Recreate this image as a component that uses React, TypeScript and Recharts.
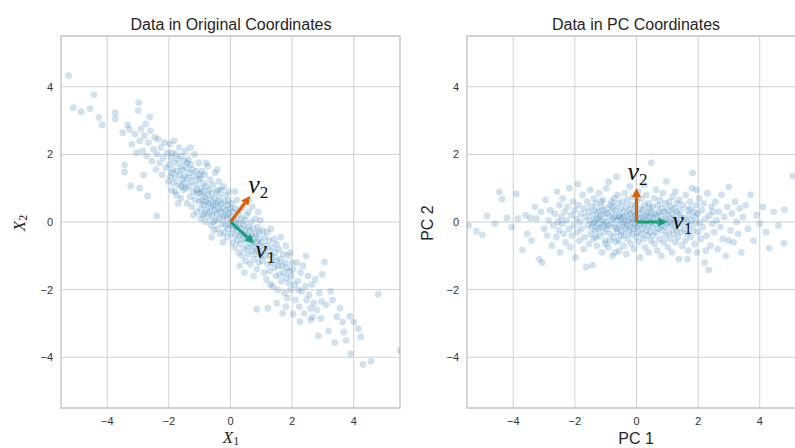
import React from "react";
import {
  ScatterChart,
  Scatter,
  XAxis,
  YAxis,
  CartesianGrid,
  ReferenceLine,
  ReferenceArea,
} from "recharts";

const TICKS = [-4, -2, 0, 2, 4];
const DOMAIN: [number, number] = [-5.5, 5.5];

// points (X1, X2)
const originalPoints: [number, number][] = [
  [-5.25,4.33],[-5.1,3.38],[-4.85,3.26],[-4.56,3.35],[-4.43,3.76],[-4.27,3.09],[-4.16,2.87],[-3.74,3.23],[-3.74,3.05],[-3.5,2.64],[-3.34,2.87],[-3.28,2.74],[-3.44,1.69],[-3.44,1.48],[-3.24,1.07],[-3.2,2.3],[-3.1,2.6],[-3.05,2.05],
  [-2.98,3.53],[-3.0,3.29],[-2.62,3.11],[-2.75,2.9],[-2.95,1.0],[-2.69,0.77],[-2.82,1.39],[-2.39,0.18],[-2.95,2.4],[-2.9,2.75],[-2.85,2.1],[-2.8,2.55],[-2.72,1.95],[-2.66,2.35],[-2.6,2.7],[-2.55,1.8],[-2.5,2.15],[-2.46,2.5],[-2.42,1.55],[-2.38,2.0],[-2.35,2.45],[-2.3,1.75],[-2.26,2.2],[-2.22,1.4],[-2.18,1.9],[-2.14,2.35],[-2.1,1.6],[-2.05,2.05],[-2.02,1.2],
  [-1.99,1.7],[-1.97,2.3],[-1.95,1.35],[-1.93,1.9],[-1.91,0.95],[-1.89,2.05],[-1.87,1.55],[-1.85,1.15],[-1.83,2.4],[-1.81,1.75],[-1.79,1.3],[-1.77,2.0],[-1.75,0.8],[-1.73,1.5],[-1.71,1.85],[-1.69,1.1],[-1.67,2.2],[-1.65,1.4],[-1.63,1.65],[-1.61,0.7],[-1.59,1.95],[-1.57,1.25],[-1.55,1.55],[-1.53,0.95],[-1.51,1.8],[-1.49,1.35],[-1.47,2.1],[-1.45,1.0],[-1.43,1.6],[-1.41,0.55],[-1.39,1.3],[-1.37,1.85],[-1.35,1.05],[-1.33,1.45],[-1.31,0.75],[-1.29,1.7],[-1.27,1.2],[-1.25,0.45],[-1.23,1.55],[-1.21,0.9],[-1.19,1.35],[-1.17,2.0],[-1.15,0.65],[-1.13,1.1],[-1.11,1.5],[-1.09,0.3],[-1.07,0.85],[-1.05,1.25],[-1.03,1.75],[-1.01,0.6],[-1.9,1.45],[-1.7,0.55],[-1.5,1.15],[-1.3,2.2],[-1.1,0.95],[-1.6,1.05],[-1.4,1.75],[-1.2,0.2],[-1.8,0.9],[-1.0,1.4],
  [-0.99,0.85],[-0.98,1.3],[-0.96,0.4],[-0.95,1.0],[-0.93,0.65],[-0.92,1.5],[-0.9,0.2],[-0.89,0.9],[-0.87,1.15],[-0.86,0.5],[-0.84,0.75],[-0.83,1.4],[-0.81,0.0],[-0.8,0.6],[-0.78,1.05],[-0.77,0.35],[-0.75,0.8],[-0.74,1.65],[-0.72,0.15],[-0.71,0.55],[-0.69,0.95],[-0.68,0.3],[-0.66,1.25],[-0.65,0.65],[-0.63,-0.1],[-0.62,0.45],[-0.6,0.85],[-0.59,0.2],[-0.57,1.1],[-0.56,0.5],[-0.54,-0.25],[-0.53,0.7],[-0.51,0.35],[-0.5,1.45],[-0.48,0.05],[-0.47,0.55],[-0.45,0.9],[-0.44,0.25],[-0.42,-0.2],[-0.41,0.6],[-0.39,0.4],[-0.38,1.2],[-0.36,0.1],[-0.35,0.75],[-0.33,-0.35],[-0.32,0.3],[-0.3,0.55],[-0.29,0.95],[-0.27,-0.05],[-0.26,0.4],[-0.24,0.15],[-0.23,1.05],[-0.21,-0.3],[-0.2,0.6],[-0.18,0.2],[-0.17,-0.1],[-0.15,0.8],[-0.14,0.35],[-0.12,-0.45],[-0.11,0.1],[-0.09,0.5],[-0.08,-0.2],[-0.06,0.25],[-0.05,0.9],[-0.03,-0.05],[-0.02,0.4],[-0.97,0.1],[-0.79,1.75],[-0.61,-0.45],[-0.43,1.55],[-0.25,-0.6],[-0.07,0.65],[-0.85,0.25],[-0.55,0.0],[-0.4,0.95],
  [0.01,0.15],[0.02,-0.35],[0.04,0.55],[0.05,-0.1],[0.07,-0.6],[0.08,0.3],[0.1,-0.2],[0.11,0.05],[0.13,-0.75],[0.14,0.4],[0.16,-0.4],[0.17,0.0],[0.19,-0.15],[0.2,0.65],[0.22,-0.55],[0.23,-0.25],[0.25,0.2],[0.26,-0.9],[0.28,-0.05],[0.29,-0.4],[0.31,0.35],[0.32,-0.65],[0.34,-0.2],[0.35,0.1],[0.37,-1.0],[0.38,-0.35],[0.4,0.45],[0.41,-0.5],[0.43,-0.1],[0.44,-0.8],[0.46,0.05],[0.47,-0.3],[0.49,-1.15],[0.5,-0.55],[0.52,0.2],[0.53,-0.4],[0.55,-0.75],[0.56,-0.15],[0.58,-0.95],[0.59,0.3],[0.61,-0.5],[0.62,-0.25],[0.64,-1.25],[0.65,-0.65],[0.67,0.0],[0.68,-0.4],[0.7,-0.85],[0.71,0.45],[0.73,-0.6],[0.74,-0.2],[0.76,-1.1],[0.77,-0.45],[0.79,-0.75],[0.8,0.1],[0.82,-0.95],[0.83,-0.35],[0.85,-1.4],[0.86,-0.6],[0.88,-0.15],[0.89,-0.85],[0.91,-0.5],[0.92,-1.2],[0.94,-0.3],[0.95,-0.7],[0.97,0.05],[0.98,-1.0],[0.15,0.9],[0.45,-1.5],[0.6,0.65],[0.75,-1.6],[0.3,-1.3],[0.9,0.3],
  [1.01,-0.6],[1.03,-1.15],[1.05,-0.25],[1.07,-0.85],[1.09,-1.5],[1.11,-0.45],[1.13,-1.0],[1.15,-0.7],[1.17,-1.7],[1.19,-0.3],[1.21,-1.25],[1.23,-0.85],[1.25,-0.55],[1.27,-1.45],[1.29,-1.0],[1.31,-0.2],[1.33,-1.2],[1.35,-0.75],[1.37,-1.9],[1.39,-1.05],[1.41,-0.5],[1.43,-1.35],[1.45,-0.9],[1.47,-1.6],[1.49,-0.65],[1.51,-1.15],[1.53,-2.0],[1.55,-1.3],[1.57,-0.8],[1.59,-1.55],[1.61,-1.1],[1.63,-0.45],[1.65,-1.75],[1.67,-1.3],[1.69,-2.7],[1.71,-0.95],[1.73,-1.5],[1.75,-2.1],[1.77,-1.2],[1.79,-0.7],[1.81,-1.65],[1.83,-1.35],[1.85,-2.25],[1.87,-1.0],[1.89,-1.8],[1.91,-1.45],[1.93,-0.9],[1.95,-2.0],[1.97,-1.6],[1.99,-1.2],[1.21,-2.55],[0.85,-2.58],[1.5,-2.4],[1.3,-1.85],[1.8,-2.5],
  [2.03,-2.72],[2.03,-1.4],[2.07,-1.85],[2.11,-2.3],[2.15,-1.2],[2.19,-1.75],[2.23,-2.5],[2.27,-1.5],[2.31,-2.05],[2.35,-1.3],[2.39,-2.7],[2.43,-1.9],[2.47,-2.3],[2.51,-1.6],[2.55,-2.15],[2.6,-2.9],[2.66,-2.81],[2.64,-1.85],[2.7,-2.4],[2.75,-1.7],[2.8,-2.6],[2.85,-3.37],[2.88,-2.1],[2.93,-2.85],[2.97,-1.55],[2.25,-2.95],[2.45,-1.0],[2.6,-2.55],[2.2,-2.0],[2.95,-2.35],
  [3.05,-1.18],[3.18,-3.22],[3.1,-2.45],[3.25,-2.05],[3.31,-2.31],[3.38,-3.56],[3.45,-2.8],[3.55,-2.55],[3.64,-2.96],[3.67,-3.26],[3.75,-3.5],[3.87,-2.79],[3.9,-3.89],[4.0,-2.96],[4.15,-3.15],[4.23,-3.4],[4.3,-4.21],[4.56,-4.12],[4.79,-2.13],[5.5,-3.8],
];

// points (PC 1, PC 2)
const pcPoints: [number, number][] = [
  [-5.45,-0.1],[-5.2,-0.27],[-5.0,-0.38],[-4.85,0.18],[-4.6,-0.05],[-4.45,0.89],[-4.36,0.68],[-4.2,0.12],[-4.05,-0.15],[-3.9,0.83],[-3.85,0.1],[-3.7,-0.83],[-3.6,0.2],[-3.55,-0.35],
  [-3.45,0.12],[-3.4,-0.55],[-3.3,0.45],[-3.25,0.1],[-3.15,-1.1],[-3.1,0.3],[-3.06,-1.2],[-3.0,-0.2],[-2.95,0.65],[-2.9,-0.4],[-2.85,0.05],[-2.8,0.35],[-2.75,-0.7],[-2.7,-0.1],[-2.65,0.25],[-2.6,-0.45],[-2.58,0.9],[-2.55,0.0],[-2.52,-0.25],[-2.5,0.5],
  [-2.48,-0.9],[-2.45,0.15],[-2.42,-0.05],[-2.4,0.7],[-2.36,-0.35],[-2.33,0.3],[-2.3,-0.6],[-2.27,0.05],[-2.24,0.45],[-2.2,-0.2],[-2.18,1.0],[-2.15,-0.75],[-2.12,0.2],[-2.1,-0.4],[-2.06,0.6],[-2.03,-0.1],[-2.0,0.35],[-1.98,-1.05],[-1.95,0.1],[-1.92,-0.3],[-1.9,1.12],[-1.88,0.5],[-1.85,-0.55],[-1.83,0.0],[-1.8,0.25],[-1.78,-0.2],[-1.75,0.8],[-1.72,-0.8],[-1.7,0.4],[-1.68,-0.45],[-1.65,0.15],[-1.63,-1.33],[-1.6,0.6],[-1.58,-0.1],[-1.56,0.3],[-1.54,-0.65],[-1.52,0.05],[-1.5,0.95],[-1.49,-0.35],[-1.47,0.45],[-1.45,-0.15],[-1.43,-1.28],[-1.42,0.2],[-1.4,-0.5],[-1.38,0.7],
  [-1.36,0.0],[-1.34,-0.25],[-1.32,0.55],[-1.3,0.1],[-1.28,-0.7],[-1.26,0.3],[-1.24,-0.05],[-1.22,0.85],[-1.2,-0.4],[-1.18,0.2],[-1.16,-0.15],[-1.14,0.45],[-1.12,-0.9],[-1.1,0.05],[-1.08,0.65],[-1.06,-0.3],[-1.04,0.25],[-1.02,-0.55],[-1.0,0.0],[-0.98,1.0],[-0.96,-0.2],[-0.94,0.4],[-0.92,-0.75],[-0.9,1.19],[-0.88,0.15],[-0.86,-0.35],[-0.84,0.5],[-0.82,-0.05],[-0.8,0.3],[-0.78,-1.0],[-0.76,0.1],[-0.74,-0.45],[-0.72,0.7],[-0.7,-0.15],[-0.68,0.35],[-0.66,-0.6],[-0.65,1.34],[-0.64,0.05],[-0.62,-0.3],[-0.6,0.55],[-0.58,0.2],[-0.56,-0.85],[-0.54,-0.1],[-0.52,0.4],[-0.5,-0.4],[-1.35,0.35],[-1.25,-0.2],[-1.15,0.6],[-1.05,-0.1],[-0.95,0.25],[-0.85,-0.55],[-0.75,0.45],[-0.65,-0.2],[-0.55,0.15],[-1.31,-0.45],[-1.11,0.35],[-0.91,-0.1],[-0.71,0.15],[-0.61,0.8],[-1.21,0.12],[-1.01,-0.65],[-0.81,0.6],[-0.57,-0.55],[-1.41,-0.05],[-0.69,-0.9],
  [-0.49,0.1],[-0.48,-0.25],[-0.46,0.6],[-0.45,-0.05],[-0.44,0.3],[-0.42,-0.7],[-0.41,0.15],[-0.4,-0.4],[-0.38,0.85],[-0.37,0.0],[-0.36,-0.2],[-0.34,0.45],[-0.33,-0.95],[-0.32,0.2],[-0.3,-0.1],[-0.29,0.65],[-0.28,-0.5],[-0.26,0.05],[-0.25,0.35],[-0.24,-0.3],[-0.22,1.05],[-0.21,-0.15],[-0.2,0.25],[-0.18,-0.65],[-0.17,0.1],[-0.16,0.5],[-0.14,-0.35],[-0.13,0.0],[-0.12,0.75],[-0.1,-0.2],[-0.09,0.3],[-0.08,-0.8],[-0.06,0.15],[-0.05,-0.05],[-0.04,0.45],[-0.02,-0.45],[-0.01,0.2],[0.0,-0.15],[0.02,0.6],[0.03,-0.3],[0.04,0.05],[0.06,0.9],[0.07,-0.6],[0.08,0.25],[0.1,-0.1],[0.11,0.4],[0.12,-1.05],[0.14,0.1],[0.15,-0.35],[0.16,0.7],[0.18,0.0],[0.19,-0.2],[0.2,0.35],[0.22,-0.5],[0.23,0.15],[0.24,1.1],[0.26,-0.05],[0.27,0.5],[0.28,-0.75],[0.3,0.2],[0.31,-0.25],[0.32,0.8],[0.34,0.05],[0.35,-0.4],[0.36,0.3],[0.38,-0.1],[0.39,0.55],[0.4,-0.9],[0.42,0.15],[0.43,-0.3],[0.44,0.4],[0.46,-0.55],[0.47,0.0],[0.48,1.75],[0.49,0.25],
  [0.51,-0.15],[0.52,0.45],[0.54,-0.4],[0.55,0.1],[0.57,0.7],[0.58,-0.65],[0.6,0.25],[0.61,-0.05],[0.63,0.95],[0.64,-0.3],[0.66,0.15],[0.67,-0.85],[0.69,0.5],[0.7,-0.2],[0.72,0.3],[0.73,0.0],[0.75,-0.5],[0.76,0.65],[0.78,-0.1],[0.79,0.2],[0.81,-1.0],[0.82,0.4],[0.84,-0.25],[0.85,0.85],[0.87,0.05],[0.88,-0.6],[0.9,0.3],[0.91,-0.15],[0.93,0.55],[0.94,-0.4],[0.96,0.1],[0.97,1.2],[0.99,-0.05],[1.0,0.35],[1.02,-0.75],[1.03,0.2],[1.05,-0.3],[1.06,0.6],[1.08,0.0],[1.09,-0.5],[1.11,0.45],[1.12,-0.1],[1.14,0.25],[1.15,-0.9],[1.17,0.75],[1.18,0.1],[1.2,-0.35],[1.21,0.4],[1.23,-0.15],[1.24,0.05],[1.26,0.9],[1.27,-0.6],[1.29,0.3],[1.3,-0.25],[1.32,0.55],[1.33,0.0],[1.35,-0.45],[1.36,0.2],[1.38,-1.1],[1.39,0.65],[1.41,-0.05],[1.42,0.35],[1.44,-0.3],[1.46,0.15],[1.48,-0.7],
  [1.52,0.5],[1.54,-0.2],[1.56,0.1],[1.58,-0.55],[1.6,0.8],[1.62,0.0],[1.64,-0.35],[1.66,0.35],[1.68,-0.85],[1.7,0.2],[1.72,-0.1],[1.74,0.6],[1.76,-0.45],[1.78,0.05],[1.8,1.0],[1.82,1.45],[1.84,-0.25],[1.86,0.3],[1.88,-0.65],[1.9,0.15],[1.92,-0.05],[1.94,0.5],[1.96,-0.9],[1.98,0.25],[2.0,-0.3],[2.03,0.7],[2.06,0.0],[2.09,-0.5],[2.12,0.35],[2.15,-0.15],[2.18,0.55],[2.21,-1.2],[2.24,0.1],[2.27,-0.4],[2.3,0.85],[2.34,-1.42],[2.37,0.2],[2.4,-0.7],[2.43,0.45],[2.46,-0.05],[2.49,0.3],[1.65,-1.1],[1.95,0.95],[2.25,-0.85],[1.75,0.4],
  [2.52,-0.3],[2.56,0.6],[2.6,0.05],[2.64,-0.8],[2.68,0.3],[2.72,-0.15],[2.76,0.8],[2.8,-0.5],[2.85,0.15],[2.9,-1.0],[2.95,0.45],[3.0,1.04],[3.05,-0.25],[3.1,0.25],[3.15,-0.6],[3.2,0.6],[3.25,0.0],[3.3,-0.35],[3.35,0.4],[3.4,-0.9],[3.45,0.15],[2.98,-0.55],
  [3.55,0.5],[3.62,-0.2],[3.7,0.8],[3.8,-0.55],[3.9,0.2],[4.0,-0.05],[4.1,0.45],[4.2,-0.3],[4.3,-0.77],[4.45,0.3],[4.6,-0.1],[4.78,-0.63],[4.8,0.36],[5.07,1.36],[5.3,0.1],[5.45,-0.3],
];

// principal axes as drawn in each panel
const origV1: [number, number] = [0.77, -0.63];
const origV2: [number, number] = [0.64, 0.77];
const pcV1: [number, number] = [1, 0];
const pcV2: [number, number] = [0, 1];

const BLUE = "#1f77b4";
const GREEN = "#1b9e77";
const ORANGE = "#d95f02";
const GRID = "#d0d0d0";
const SANS = "'Liberation Sans', Arial, sans-serif";
const SERIF = "'Liberation Serif', 'DejaVu Serif', serif";

const fmt = (v: number) => (v < 0 ? `\u2212${Math.abs(v)}` : `${v}`);

const Dot = (p: any) => (
  <circle cx={p.cx} cy={p.cy} r={3.4} fill={BLUE} fillOpacity={0.21} />
);

function makeArrow(color: string, sub: string, lx: number, ly: number) {
  return (p: any) => {
    const { x1, y1, x2, y2 } = p;
    const len = Math.hypot(x2 - x1, y2 - y1);
    const ux = (x2 - x1) / len;
    const uy = (y2 - y1) / len;
    const head = 9;
    const half = 4.5;
    const bx = x2 - ux * head;
    const by = y2 - uy * head;
    const pts = `${x2},${y2} ${bx - uy * half},${by + ux * half} ${bx + uy * half},${by - ux * half}`;
    return (
      <g>
        <line x1={x1} y1={y1} x2={bx} y2={by} stroke={color} strokeWidth={3} />
        <polygon points={pts} fill={color} />
        <text x={x2 + lx} y={y2 + ly} fontFamily={SERIF} fontSize={26} fill="#111">
          <tspan fontStyle="italic">v</tspan>
          <tspan fontSize={17} dy={5}>{sub}</tspan>
        </text>
      </g>
    );
  };
}

type PanelProps = {
  points: [number, number][];
  v1: [number, number];
  v2: [number, number];
  width: number;
  left: number;
  labels: { v1: [number, number]; v2: [number, number] };
};

function Axes({ hidden }: { hidden?: boolean }) {
  const tick = hidden ? false : { fontSize: 11, fill: "#333", fontFamily: SANS };
  return (
    <>
      <XAxis
        type="number"
        dataKey="x"
        domain={DOMAIN}
        ticks={TICKS}
        allowDataOverflow
        axisLine={false}
        tickLine={false}
        tickSize={6}
        tickMargin={3}
        height={30}
        tickFormatter={fmt}
        tick={tick}
      />
      <YAxis
        type="number"
        dataKey="y"
        domain={DOMAIN}
        ticks={TICKS}
        allowDataOverflow
        axisLine={false}
        tickLine={false}
        tickSize={6}
        tickMargin={2}
        width={30}
        tickFormatter={fmt}
        tick={tick}
      />
    </>
  );
}

function Panel({ points, v1, v2, width, left, labels }: PanelProps) {
  const data = points.map(([x, y]) => ({ x, y }));
  const margin = { top: 36, right: 10, bottom: 10, left };
  return (
    <div style={{ position: "relative", width, height: 448 }}>
      <div style={{ position: "absolute", left: 0, top: 0 }}>
        <ScatterChart width={width} height={448} margin={margin}>
          <CartesianGrid stroke={GRID} strokeWidth={1} />
          {Axes({})}
          <Scatter data={data} shape={Dot} isAnimationActive={false} />
          <ReferenceArea
            x1={DOMAIN[0]}
            x2={DOMAIN[1]}
            y1={DOMAIN[0]}
            y2={DOMAIN[1]}
            fill="none"
            stroke="#cccccc"
            strokeWidth={1.3}
          />
        </ScatterChart>
      </div>
      {/* arrows on a second layer so they sit above the points */}
      <div style={{ position: "absolute", left: 0, top: 0 }}>
        <ScatterChart width={width} height={448} margin={margin}>
          {Axes({ hidden: true })}
          <Scatter data={[]} isAnimationActive={false} />
          <ReferenceLine
            segment={[{ x: 0, y: 0 }, { x: v2[0], y: v2[1] }]}
            shape={makeArrow(ORANGE, "2", labels.v2[0], labels.v2[1])}
          />
          <ReferenceLine
            segment={[{ x: 0, y: 0 }, { x: v1[0], y: v1[1] }]}
            shape={makeArrow(GREEN, "1", labels.v1[0], labels.v1[1])}
          />
        </ScatterChart>
      </div>
    </div>
  );
}

export default function App() {
  return (
    <div
      style={{
        position: "absolute",
        left: 0,
        top: 0,
        width: 795,
        height: 448,
        overflow: "hidden",
        background: "#fff",
      }}
    >
      <div style={{ position: "absolute", left: 0, top: 0 }}>
        <Panel
          points={originalPoints}
          v1={origV1}
          v2={origV2}
          width={410}
          left={31}
          labels={{ v1: [1, 15], v2: [-2, -3] }}
        />
      </div>
      <div style={{ position: "absolute", left: 410, top: 0 }}>
        <Panel
          points={pcPoints}
          v1={pcV1}
          v2={pcV2}
          width={406}
          left={27}
          labels={{ v1: [5, 7], v2: [-9, -8] }}
        />
      </div>
      <svg
        width={795}
        height={448}
        style={{ position: "absolute", left: 0, top: 0, pointerEvents: "none" }}
      >
        <g fontFamily={SANS} fill="#262626">
          <text x={231} y={30} fontSize={16} textAnchor="middle">
            Data in Original Coordinates
          </text>
          <text x={636} y={30} fontSize={16} textAnchor="middle">
            Data in PC Coordinates
          </text>
          <text x={636} y={444} fontSize={16} textAnchor="middle">
            PC 1
          </text>
          <text
            x={433}
            y={223}
            fontSize={16}
            textAnchor="middle"
            transform="rotate(-90 433 223)"
          >
            PC 2
          </text>
        </g>
        <g fontFamily={SERIF} fill="#262626">
          <text x={231} y={443} fontSize={17} textAnchor="middle">
            <tspan fontStyle="italic">X</tspan>
            <tspan fontSize={12} dy={2}>1</tspan>
          </text>
          <text
            x={25}
            y={223}
            fontSize={17}
            textAnchor="middle"
            transform="rotate(-90 25 223)"
          >
            <tspan fontStyle="italic">X</tspan>
            <tspan fontSize={12} dy={2}>2</tspan>
          </text>
        </g>
      </svg>
    </div>
  );
}
